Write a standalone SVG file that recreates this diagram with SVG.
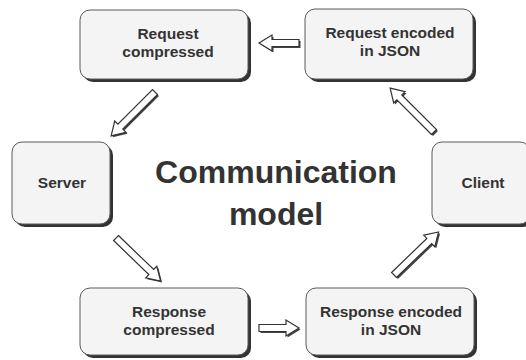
<svg xmlns="http://www.w3.org/2000/svg" xmlns:xlink="http://www.w3.org/1999/xlink" width="526" height="360" viewBox="0 0 526 360">
<style>
.box{fill:#f4f4f4;stroke:#5a5a5a;stroke-width:1}
.sh{fill:#333}
.lbl{font-family:"Liberation Sans",Arial,sans-serif;font-weight:bold;font-size:15.5px;fill:#333;text-anchor:middle}
.title{font-family:"Liberation Sans",Arial,sans-serif;font-weight:bold;font-size:32px;fill:#333;text-anchor:middle}
.arr{fill:#fff;stroke:#333;stroke-width:1.2;stroke-linejoin:miter}
.arrsh{fill:#444}
</style>
<defs>
<polygon id="a40" points="0,-3.5 27,-3.5 27,-8 40,0 27,8 27,3.5 0,3.5"/>
<polygon id="a62" points="0,-3.5 49,-3.5 49,-8 62,0 49,8 49,3.5 0,3.5"/>
</defs>
<rect width="526" height="360" fill="#fff"/>
<g id="connectors">
<g transform="translate(299,43) rotate(180)"><use xlink:href="#a40" class="arrsh" transform="translate(-1.5,-1.5)"/><use xlink:href="#a40" class="arr"/></g>
<g transform="translate(259,328)"><use xlink:href="#a40" class="arrsh" transform="translate(1.5,1.5)"/><use xlink:href="#a40" class="arr"/></g>
<g transform="translate(155,92) rotate(135)"><use xlink:href="#a62" class="arrsh" transform="rotate(-135) translate(1.5,1.5) rotate(135)"/><use xlink:href="#a62" class="arr"/></g>
<g transform="translate(434,132) rotate(-135)"><use xlink:href="#a62" class="arrsh" transform="rotate(135) translate(1.5,1.5) rotate(-135)"/><use xlink:href="#a62" class="arr"/></g>
<g transform="translate(116,238) rotate(44)"><use xlink:href="#a62" class="arrsh" transform="rotate(-44) translate(1.5,1.5) rotate(44)"/><use xlink:href="#a62" class="arr"/></g>
<g transform="translate(394,275) rotate(-44)"><use xlink:href="#a62" class="arrsh" transform="rotate(44) translate(1.5,1.5) rotate(-44)"/><use xlink:href="#a62" class="arr"/></g>
</g>
<g id="req-compressed">
<rect class="sh" x="83" y="13" width="168" height="69" rx="10"/>
<rect class="box" x="80" y="10" width="168" height="69" rx="10"/>
<text class="lbl" x="168" y="39">Request</text>
<text class="lbl" x="168" y="57">compressed</text>
</g>
<g id="req-json">
<rect class="sh" x="308" y="12" width="168" height="70" rx="10"/>
<rect class="box" x="305" y="9" width="168" height="70" rx="10"/>
<text class="lbl" x="390" y="38">Request encoded</text>
<text class="lbl" x="390" y="56">in JSON</text>
</g>
<g id="server">
<rect class="sh" x="15" y="145" width="98" height="82" rx="10"/>
<rect class="box" x="12" y="142" width="98" height="82" rx="10"/>
<text class="lbl" x="62" y="188">Server</text>
</g>
<g id="client">
<rect class="sh" x="435" y="145" width="98" height="82" rx="10"/>
<rect class="box" x="432" y="142" width="98" height="82" rx="10"/>
<text class="lbl" x="483" y="188">Client</text>
</g>
<g id="resp-compressed">
<rect class="sh" x="83" y="291" width="168" height="67" rx="10"/>
<rect class="box" x="80" y="288" width="168" height="67" rx="10"/>
<text class="lbl" x="169" y="317">Response</text>
<text class="lbl" x="169" y="335">compressed</text>
</g>
<g id="resp-json">
<rect class="sh" x="309" y="291" width="168" height="67" rx="10"/>
<rect class="box" x="306" y="288" width="168" height="67" rx="10"/>
<text class="lbl" x="391" y="317">Response encoded</text>
<text class="lbl" x="391" y="335">in JSON</text>
</g>
<g id="title">
<text class="title" x="276" y="183">Communication</text>
<text class="title" x="276" y="225">model</text>
</g>
</svg>
